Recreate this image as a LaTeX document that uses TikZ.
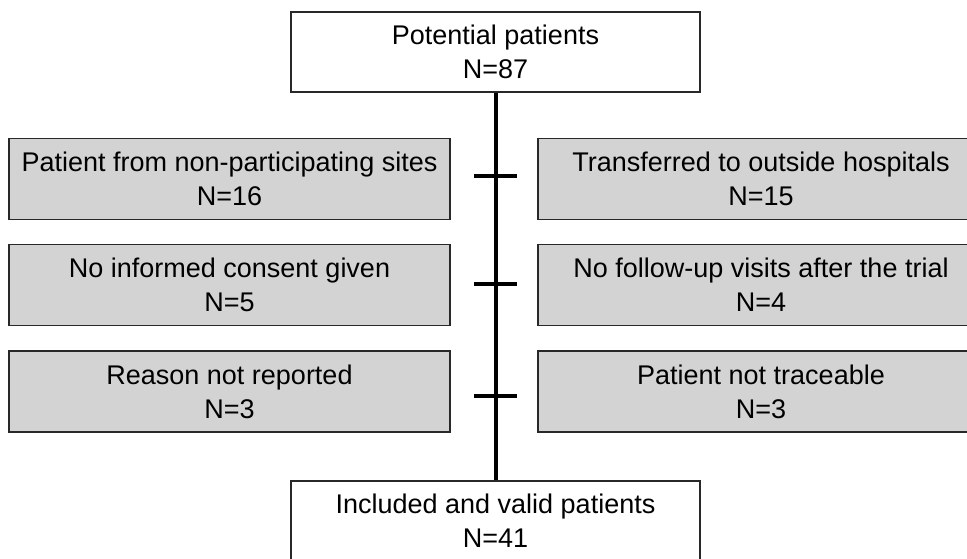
\documentclass[tikz,border=0pt]{standalone}
\usepackage{fontspec}
\setmainfont{Liberation Sans}
\definecolor{boxgray}{RGB}{211,211,211}
\definecolor{edgegray}{RGB}{40,40,40}
\begin{document}
\begin{tikzpicture}[x=1pt,y=-1pt,
  box/.style={draw=edgegray,line width=1.5pt,align=center,inner sep=0pt,
    font=\fontsize{27}{34}\selectfont},
  whitebox/.style={box,fill=white,minimum width=409pt,minimum height=80pt},
  graybox/.style={box,fill=boxgray,minimum height=81pt},
  leftbox/.style={graybox,minimum width=441pt},
  rightbox/.style={graybox,minimum width=446pt},
  flow/.style={line width=4pt,black},
  tick/.style={line width=3.6pt,black}]
\useasboundingbox (0,0) rectangle (967,558);
\node[whitebox] (top) at (495.5,52) {Potential patients\\N=87};
\node[whitebox] (bot) at (495.5,521) {Included and valid patients\\N=41};
\node[leftbox] (l1) at (229.5,179) {Patient from non-participating sites\\N=16};
\node[leftbox] (l2) at (229.5,285) {No informed consent given\\N=5};
\node[leftbox] (l3) at (229.5,391.5) {Reason not reported\\N=3};
\node[rightbox] (r1) at (761,179) {Transferred to outside hospitals\\N=15};
\node[rightbox] (r2) at (761,285) {No follow-up visits after the trial\\N=4};
\node[rightbox] (r3) at (761,391.5) {Patient not traceable\\N=3};
\draw[flow] (top.south) -- (bot.north);
\coordinate (a1) at (474,176); \coordinate (b1) at (517,176);
\coordinate (a2) at (474,284); \coordinate (b2) at (517,284);
\coordinate (a3) at (474,396); \coordinate (b3) at (517,396);
\draw[tick] (a1) -- (b1);
\draw[tick] (a2) -- (b2);
\draw[tick] (a3) -- (b3);
\end{tikzpicture}
\end{document}
